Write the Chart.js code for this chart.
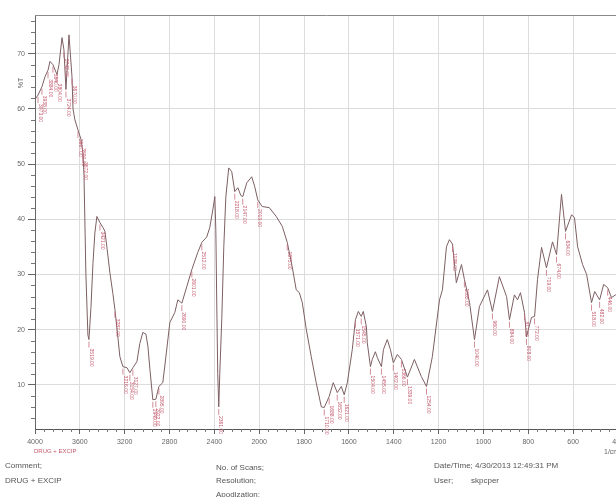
<!DOCTYPE html>
<html>
<head>
<meta charset="utf-8">
<script src="https://cdn.jsdelivr.net/npm/chart.js@4.4.1/dist/chart.umd.min.js"></script>
<style>
  html, body { margin: 0; padding: 0; background: #fff; overflow: hidden; width: 616px; height: 497px; }
  #wrap { position: relative; width: 616px; height: 497px; overflow: hidden; }
  canvas { position: absolute; left: 0; top: 0; }
  .info { position: absolute; font: 8px "Liberation Sans", Arial, sans-serif; color: #555; white-space: nowrap; }
</style>
</head>
<body>
<div id="wrap">
  <canvas id="irChart" width="640" height="497"></canvas>
  <div class="info" style="left:5px;top:461px;">Comment;</div>
  <div class="info" style="left:5px;top:476px;">DRUG + EXCIP</div>
  <div class="info" style="left:216px;top:463px;">No. of Scans;</div>
  <div class="info" style="left:216px;top:476px;">Resolution;</div>
  <div class="info" style="left:216px;top:490px;">Apodization;</div>
  <div class="info" style="left:434px;top:461px;">Date/Time; 4/30/2013 12:49:31 PM</div>
  <div class="info" style="left:434px;top:476px;">User;</div>
  <div class="info" style="left:471px;top:476px;">skpcper</div>
</div>
<script>
// wavenumber (1/cm) and transmittance (%T)
const wavenumbers = [
  4000, 3973, 3938, 3911, 3884, 3866, 3840, 3804, 3786, 3759, 3742, 3724, 3697, 3670, 3661,
  3644, 3617, 3590, 3572, 3563, 3546, 3528, 3519, 3501, 3483, 3466, 3448, 3421, 3394, 3376,
  3359, 3332, 3305, 3287, 3260, 3243, 3216, 3180, 3154, 3127, 3091, 3065, 3038, 3011, 2993,
  2975, 2949, 2922, 2895, 2860, 2833, 2797, 2753, 2726, 2690, 2646, 2601, 2548, 2512, 2468,
  2441, 2414, 2396, 2387, 2379, 2370, 2361, 2352, 2334, 2316, 2298, 2272, 2245, 2218, 2191,
  2164, 2147, 2111, 2067, 2040, 2013, 1987, 1955, 1924, 1897, 1875, 1853, 1835, 1821, 1808,
  1790, 1768, 1746, 1723, 1710, 1688, 1670, 1652, 1634, 1621, 1607, 1585, 1571, 1558, 1545,
  1536, 1522, 1518, 1504, 1496, 1482, 1473, 1455, 1446, 1429, 1415, 1402, 1384, 1366, 1339,
  1308, 1277, 1254, 1228, 1196, 1183, 1165, 1152, 1138, 1121, 1098, 1085, 1062, 1040, 1018,
  982, 960, 929, 897, 884, 862, 848, 835, 817, 808, 786, 772, 759, 741, 719,
  692, 674, 652, 634, 607, 594, 580, 558, 540, 518, 504, 482, 464, 446, 429, 411, 402
];
const transmittance = [
  61.7, 62.5, 64.0, 65.8, 67.0, 68.6, 68.0, 66.2, 68.0, 72.9, 70.7, 63.5, 73.4, 65.8, 60.0,
  58.0, 56.2, 54.5, 52.0, 48.0, 30.0, 19.0, 18.2, 24.0, 32.0, 37.5, 40.5, 39.4, 38.5, 37.8,
  35.0, 30.3, 26.5, 23.6, 18.5, 15.1, 13.3, 13.1, 12.2, 13.1, 14.2, 17.5, 19.5, 19.2, 17.0,
  12.8, 7.3, 7.4, 9.7, 10.4, 15.0, 21.3, 23.1, 25.4, 24.8, 27.8, 30.9, 34.0, 35.8, 36.8,
  38.5, 41.7, 44.1, 38.0, 25.0, 12.0, 6.0, 12.0, 22.0, 35.0, 44.0, 49.3, 48.6, 45.0, 45.7,
  44.3, 44.1, 46.6, 47.7, 45.9, 43.5, 42.3, 42.1, 40.5, 38.7, 35.8, 31.4, 27.2, 26.7, 24.9,
  20.0, 15.1, 10.4, 6.0, 5.9, 7.9, 10.4, 8.6, 9.7, 8.2, 10.4, 16.4, 21.8, 23.3, 22.4,
  23.3, 20.5, 17.6, 13.3, 14.6, 16.0, 14.9, 13.3, 16.4, 18.2, 16.4, 14.0, 15.5, 14.6, 11.4,
  14.6, 11.5, 9.7, 15.1, 25.4, 27.2, 35.0, 36.3, 35.5, 28.5, 31.8, 29.1, 24.9, 18.2, 24.2,
  27.2, 23.3, 29.6, 26.0, 21.8, 26.3, 25.4, 26.7, 23.1, 18.7, 22.2, 22.4, 29.1, 34.9, 31.2,
  35.9, 33.6, 44.5, 37.8, 40.8, 40.3, 35.0, 31.8, 30.0, 24.9, 26.9, 25.4, 28.2, 27.6, 25.8, 26.3, 26.0
];
// picked peaks (must be wavenumbers present above)
const peakWavenumbers = [
  3973, 3938, 3884, 3840, 3804, 3742, 3724, 3670, 3617, 3590, 3572, 3519, 3421, 3287, 3216,
  3154, 3127, 2949, 2922, 2895, 2690, 2601, 2512, 2361, 2218, 2147, 2013, 1875, 1710, 1688,
  1652, 1621, 1571, 1545, 1504, 1455, 1402, 1366, 1339, 1254, 1138, 1085, 1040, 960, 884,
  817, 808, 772, 719, 674, 634, 518, 482, 446
];
const xTicks = [4000, 3600, 3200, 2800, 2400, 2000, 1800, 1600, 1400, 1200, 1000, 800, 600, 400];
const yTicks = [10, 20, 30, 40, 50, 60, 70];

// IR axis: 400 1/cm per division above 2000, 200 per division below
function irUnits(v) {
  return v >= 2000 ? (4000 - v) / 400 : 5 + (2000 - v) / 200;
}
class IrScale extends Chart.LinearScale {
  getPixelForValue(value) {
    if (value === null || value === undefined) return NaN;
    return this.getPixelForDecimal(irUnits(value) / 13);
  }
  getValueForPixel(pixel) {
    const u = this.getDecimalForPixel(pixel) * 13;
    return u <= 5 ? 4000 - u * 400 : 2000 - (u - 5) * 200;
  }
}
IrScale.id = 'irscale';
IrScale.defaults = Chart.LinearScale.defaults;
Chart.register(IrScale);

const font = '"Liberation Sans", Arial, sans-serif';

const extras = {
  id: 'extras',
  afterDatasetsDraw(chart) {
    const ctx = chart.ctx;
    const x = chart.scales.x, y = chart.scales.y;
    const area = chart.chartArea;
    const meta = chart.getDatasetMeta(0);

    // peak labels
    ctx.save();
    ctx.strokeStyle = '#c7707f';
    ctx.fillStyle = '#c35a6e';
    ctx.lineWidth = 0.8;
    ctx.font = '5px ' + font;
    peakWavenumbers.forEach(w => {
      const i = wavenumbers.indexOf(w);
      if (i < 0) return;
      const p = meta.data[i];
      ctx.beginPath();
      ctx.moveTo(p.x, p.y + 2);
      ctx.lineTo(p.x, p.y + 8);
      ctx.stroke();
      ctx.save();
      ctx.translate(p.x + 2, p.y + 9);
      ctx.rotate(Math.PI / 2);
      ctx.textBaseline = 'middle';
      ctx.fillText(w.toFixed(2), 0, 0);
      ctx.restore();
    });
    ctx.restore();
  },
  afterDraw(chart) {
    const ctx = chart.ctx;
    const x = chart.scales.x, y = chart.scales.y;
    const area = chart.chartArea;
    ctx.save();
    // top frame line
    ctx.strokeStyle = '#8a8a8a';
    ctx.lineWidth = 1;
    ctx.beginPath();
    ctx.moveTo(area.left, area.top + 0.5);
    ctx.lineTo(area.right, area.top + 0.5);
    ctx.stroke();

    // minor ticks
    ctx.strokeStyle = '#777';
    ctx.beginPath();
    for (let v = 4000; v > 2000; v -= 80) {
      if (xTicks.includes(v)) continue;
      const px = Math.round(x.getPixelForValue(v)) + 0.5;
      ctx.moveTo(px, area.bottom);
      ctx.lineTo(px, area.bottom + 3);
    }
    for (let v = 2000; v >= 400; v -= 40) {
      if (xTicks.includes(v)) continue;
      const px = Math.round(x.getPixelForValue(v)) + 0.5;
      ctx.moveTo(px, area.bottom);
      ctx.lineTo(px, area.bottom + 3);
    }
    for (let v = 4; v <= 76; v += 2) {
      if (yTicks.includes(v)) continue;
      const py = Math.round(y.getPixelForValue(v)) + 0.5;
      ctx.moveTo(area.left - 4, py);
      ctx.lineTo(area.left, py);
    }
    ctx.stroke();

    // axis title
    ctx.fillStyle = '#666';
    ctx.font = '7px ' + font;
    ctx.save();
    ctx.translate(21, 83);
    ctx.rotate(-Math.PI / 2);
    ctx.textAlign = 'center';
    ctx.textBaseline = 'middle';
    ctx.fillText('%T', 0, 0);
    ctx.restore();

    ctx.textBaseline = 'middle';
    ctx.fillText('1/cm', 604, 452);
    ctx.fillStyle = '#c35a6e';
    ctx.font = '6px ' + font;
    ctx.fillText('DRUG + EXCIP', 34, 451);
    ctx.restore();
  }
};

new Chart(document.getElementById('irChart'), {
  type: 'line',
  data: {
    datasets: [{
      data: wavenumbers.map((w, i) => ({ x: w, y: transmittance[i] })),
      borderColor: '#7d5f62',
      borderWidth: 1,
      pointRadius: 0,
      tension: 0,
      fill: false
    }]
  },
  options: {
    responsive: false,
    animation: false,
    events: [],
    layout: { padding: { top: 15, right: 22, left: 0, bottom: 0 } },
    plugins: { legend: { display: false }, tooltip: { enabled: false } },
    scales: {
      x: {
        type: 'irscale',
        min: 400,
        max: 4000,
        afterBuildTicks: s => { s.ticks = xTicks.map(v => ({ value: v })); },
        afterFit: s => { s.height = 68; },
        grid: { color: '#dcdcdc', tickColor: '#666', tickLength: 5 },
        border: { color: '#555' },
        ticks: {
          callback: v => String(v),
          maxRotation: 0,
          autoSkip: false,
          padding: 4,
          color: '#666',
          font: { size: 7, family: font }
        }
      },
      y: {
        type: 'linear',
        min: 2,
        max: 77,
        afterBuildTicks: s => { s.ticks = yTicks.map(v => ({ value: v })); },
        afterFit: s => { s.width = 35; },
        grid: { color: '#dcdcdc', tickColor: '#666', tickLength: 7 },
        border: { color: '#666' },
        ticks: {
          padding: 3,
          color: '#666',
          font: { size: 7, family: font }
        }
      }
    }
  },
  plugins: [extras]
});
</script>
</body>
</html>
